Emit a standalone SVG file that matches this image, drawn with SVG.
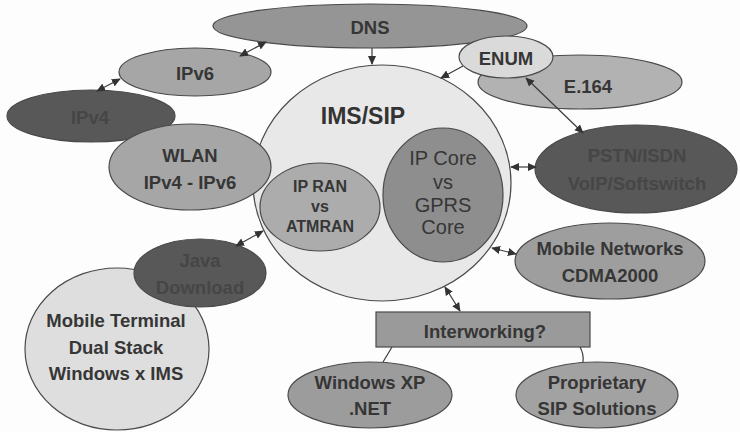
<svg xmlns="http://www.w3.org/2000/svg" width="740" height="432" viewBox="0 0 740 432">
  <defs>
    <marker id="ah" viewBox="0 0 10 10" refX="9" refY="5" markerWidth="9" markerHeight="9" orient="auto-start-reverse" markerUnits="userSpaceOnUse">
      <path d="M0,0.5 L10,5 L0,9.5 z" fill="#333"/>
    </marker>
    <style>
      .n { stroke: #4a4a4a; stroke-width: 1.2; }
      .t { font-family: "Liberation Sans", Arial, sans-serif; font-weight: bold; font-size: 18.5px; fill: #363636; text-anchor: middle; dominant-baseline: central; }
      .mid { fill: #a6a6a6; }
      .md { fill: #959595; }
      .dk { fill: #585858; }
      .c { stroke: #3a3a3a; stroke-width: 1.2; fill: none; }
      .bi { marker-start: url(#ah); marker-end: url(#ah); }
    </style>
  </defs>
  <rect width="740" height="432" fill="#fdfdfd"/>

  <!-- Central IMS/SIP domain -->
  <g id="ims">
    <ellipse class="n" cx="382" cy="183" rx="129" ry="118" fill="#e8e8e8"/>
    <text class="t" x="363" y="116" style="font-size:23px;fill:#333">IMS/SIP</text>
  </g>

  <g id="dns">
    <ellipse class="n md" cx="370" cy="26" rx="157" ry="22"/>
    <text class="t" x="370" y="27">DNS</text>
  </g>

  <g id="e164">
    <ellipse class="n" cx="580" cy="82" rx="102" ry="27" fill="#b2b2b2"/>
    <text class="t" x="588" y="86">E.164</text>
  </g>

  <g id="enum">
    <ellipse class="n" cx="506" cy="57" rx="47" ry="21" fill="#dadada"/>
    <text class="t" x="506" y="58">ENUM</text>
  </g>

  <g id="ipv6">
    <ellipse class="n mid" cx="195" cy="72" rx="76" ry="24"/>
    <text class="t" x="195" y="73">IPv6</text>
  </g>

  <g id="ipv4">
    <ellipse class="n dk" cx="91" cy="116" rx="84" ry="26"/>
    <text class="t" x="90" y="117" style="fill:#464646">IPv4</text>
  </g>

  <g id="wlan">
    <ellipse class="n mid" cx="190" cy="167" rx="81" ry="43"/>
    <text class="t" x="190" y="155">WLAN</text>
    <text class="t" x="190" y="182">IPv4 - IPv6</text>
  </g>

  <g id="ipran">
    <ellipse class="n" cx="320" cy="207" rx="60" ry="44" fill="#acacac"/>
    <text class="t" x="320" y="186" style="font-size:16px">IP RAN</text>
    <text class="t" x="320" y="206" style="font-size:16px">vs</text>
    <text class="t" x="320" y="226" style="font-size:16px">ATMRAN</text>
  </g>

  <g id="ipcore">
    <ellipse class="n" cx="443" cy="195" rx="60" ry="67" fill="#8e8e8e"/>
    <text class="t" x="443" y="158" style="font-size:20px;font-weight:normal">IP Core</text>
    <text class="t" x="443" y="182" style="font-size:20px;font-weight:normal">vs</text>
    <text class="t" x="443" y="205" style="font-size:20px;font-weight:normal">GPRS</text>
    <text class="t" x="443" y="227" style="font-size:20px;font-weight:normal">Core</text>
  </g>

  <g id="pstn">
    <ellipse class="n dk" cx="636" cy="169" rx="101" ry="44"/>
    <text class="t" x="637" y="155" style="fill:#464646">PSTN/ISDN</text>
    <text class="t" x="637" y="183" style="fill:#464646">VoIP/Softswitch</text>
  </g>

  <g id="mobile-networks">
    <ellipse class="n" cx="610" cy="261" rx="95" ry="38" fill="#9e9e9e"/>
    <text class="t" x="610" y="248">Mobile Networks</text>
    <text class="t" x="610" y="275">CDMA2000</text>
  </g>

  <g id="mobile-terminal">
    <ellipse class="n" cx="117" cy="349" rx="92" ry="81" fill="#dedede"/>
    <text class="t" x="116" y="320">Mobile Terminal</text>
    <text class="t" x="116" y="347">Dual Stack</text>
    <text class="t" x="116" y="373">Windows x IMS</text>
  </g>

  <g id="java">
    <ellipse class="n dk" cx="200" cy="273" rx="66" ry="34"/>
    <text class="t" x="200" y="260" style="fill:#464646">Java</text>
    <text class="t" x="200" y="287" style="fill:#464646">Download</text>
  </g>

  <g id="interworking">
    <rect class="n" x="376" y="312" width="214" height="35" fill="#9a9a9a"/>
    <text class="t" x="485" y="331">Interworking?</text>
  </g>

  <g id="windows-xp">
    <ellipse class="n" cx="370" cy="395" rx="82" ry="33" fill="#9c9c9c"/>
    <text class="t" x="370" y="382">Windows XP</text>
    <text class="t" x="370" y="408">.NET</text>
  </g>

  <g id="proprietary">
    <ellipse class="n" cx="597" cy="395" rx="81" ry="33" fill="#a2a2a2"/>
    <text class="t" x="597" y="382">Proprietary</text>
    <text class="t" x="597" y="408">SIP Solutions</text>
  </g>

  <!-- Connectors -->
  <g id="connectors">
    <line class="c bi" x1="240" y1="56" x2="266" y2="42"/>
    <line class="c bi" x1="97" y1="91" x2="120" y2="79"/>
    <line class="c" x1="372" y1="48" x2="372" y2="64" marker-end="url(#ah)"/>
    <line class="c" x1="463" y1="66" x2="441" y2="78" marker-end="url(#ah)"/>
    <line class="c bi" x1="526" y1="78" x2="583" y2="133"/>
    <line class="c bi" x1="511" y1="167" x2="536" y2="167"/>
    <line class="c bi" x1="492" y1="248" x2="516" y2="254"/>
    <line class="c bi" x1="445" y1="287" x2="460" y2="311"/>
    <line class="c bi" x1="236" y1="246" x2="263" y2="231"/>
    <line class="c" x1="392" y1="347" x2="383" y2="362"/>
    <path class="c" d="M580,347 Q584,354 583,362"/>
  </g>
</svg>
